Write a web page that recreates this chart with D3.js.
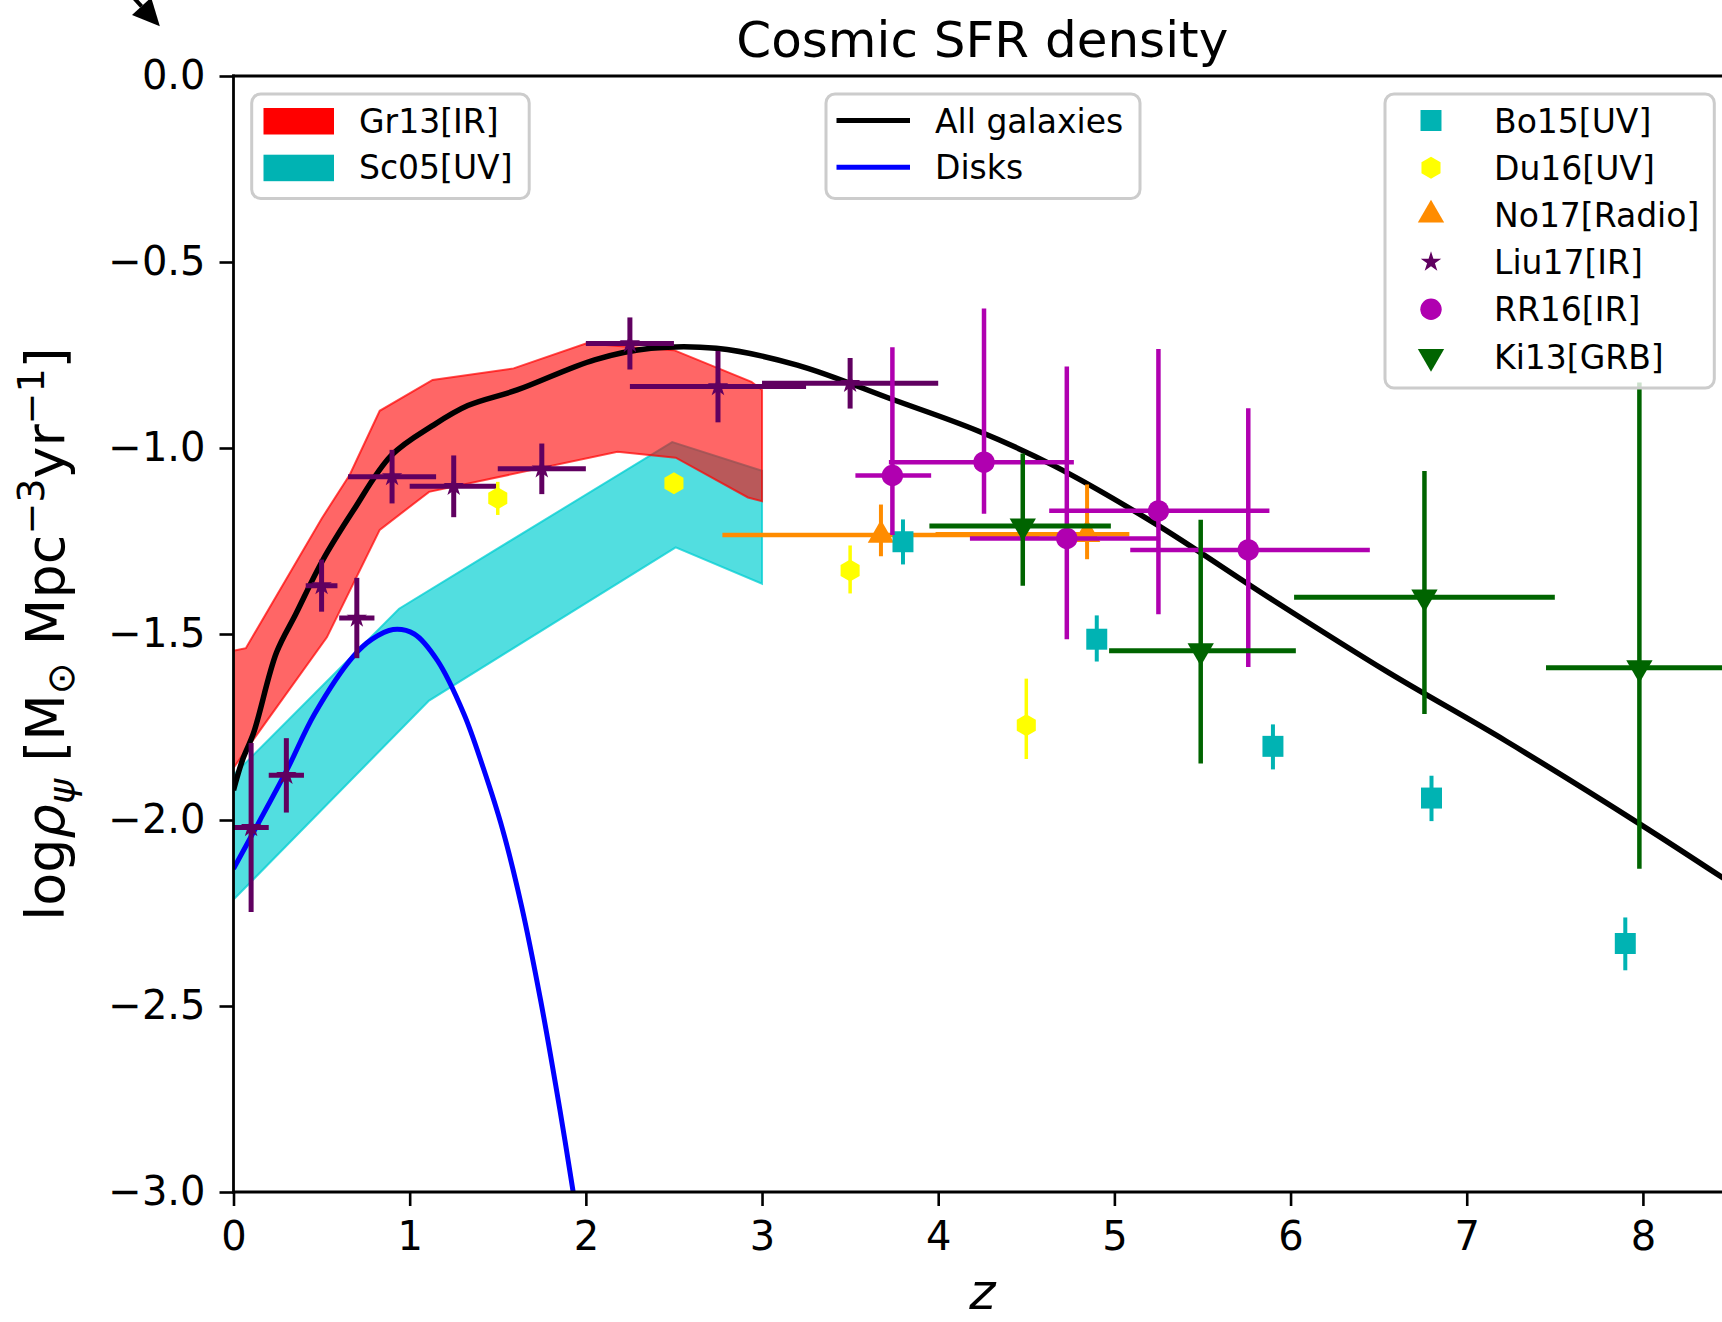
<!DOCTYPE html>
<html>
<head>
<meta charset="utf-8">
<script src="https://cdn.jsdelivr.net/npm/d3@7"></script>
<style>
  html, body { margin: 0; padding: 0; background: #fff; overflow: hidden; }
  svg { display: block; font-family: "DejaVu Sans", sans-serif; }
</style>
</head>
<body>
<svg id="chart" width="1722" height="1322"></svg>
<script>
// ---- Observational bands (upper / lower envelopes) ----
const gr13UpperZ = [0, 0.07, 0.5, 0.66, 0.83, 1.13, 1.59, 2.0, 2.5, 2.94, 3.0];
const gr13UpperV = [-1.545, -1.538, -1.19, -1.072, -0.9, -0.817, -0.786, -0.719, -0.737, -0.822, -0.844];
const gr13LowerZ = [0, 0.11, 0.53, 0.83, 1.11, 2.18, 2.51, 2.92, 3.0];
const gr13LowerV = [-1.86, -1.786, -1.509, -1.22, -1.118, -1.01, -1.026, -1.133, -1.143];

const sc05UpperZ = [0, 0.94, 2.49, 3.0];
const sc05UpperV = [-1.879, -1.432, -0.984, -1.061];
const sc05LowerZ = [0, 1.11, 2.51, 3.0];
const sc05LowerV = [-2.214, -1.679, -1.267, -1.365];

// ---- Model curves ----
const allZ = [0, 0.05, 0.114, 0.244, 0.353, 0.505, 0.679, 0.896, 1.13, 1.33, 1.61, 2.05, 2.37, 2.74, 3.2, 3.75, 4.22, 4.65, 5.22, 5.89, 6.55, 7.22, 7.99, 8.5];
const allV = [-1.92, -1.84, -1.766, -1.55, -1.447, -1.303, -1.169, -1.02, -0.94, -0.886, -0.844, -0.763, -0.732, -0.732, -0.777, -0.871, -0.953, -1.046, -1.2, -1.406, -1.602, -1.787, -2.013, -2.17];

const diskZ = [0, 0.136, 0.31, 0.46, 0.68, 0.787, 0.906, 1.026, 1.157, 1.308, 1.417, 1.526, 1.634, 1.743, 1.853, 1.928];
const diskV = [-2.131, -2.013, -1.859, -1.715, -1.56, -1.514, -1.488, -1.5, -1.571, -1.715, -1.859, -2.023, -2.229, -2.484, -2.78, -3.0];

// ---- Data points with error bars ----
const liu17Z    = [0.1, 0.3, 0.5, 0.7, 0.9, 1.25, 1.75, 2.25, 2.75, 3.5];
const liu17V    = [-2.02, -1.88, -1.37, -1.457, -1.077, -1.103, -1.056, -0.719, -0.835, -0.826];
const liu17ZErr = [0.1, 0.1, 0.09, 0.1, 0.25, 0.25, 0.25, 0.25, 0.5, 0.5];
const liu17VErr = [0.227, 0.1, 0.07, 0.108, 0.072, 0.083, 0.068, 0.07, 0.096, 0.068];

const du16Z     = [1.5, 2.5, 3.5, 4.5];
const du16V     = [-1.135, -1.095, -1.329, -1.745];
const du16VErrLo = [0.045, 0.02, 0.062, 0.091];
const du16VErrHi = [0.044, 0.02, 0.067, 0.125];

const no17Z      = [3.675, 4.845];
const no17V      = [-1.234, -1.232];
const no17ZErrLo = [0.9, 0.86];
const no17ZErrHi = [0.9, 0.24];
const no17VErrLo = [0.057, 0.067];
const no17VErrHi = [0.082, 0.134];

const bo15Z      = [3.8, 4.9, 5.9, 6.8, 7.9];
const bo15V      = [-1.252, -1.514, -1.802, -1.941, -2.332];
const bo15VErrLo = [0.061, 0.06, 0.062, 0.062, 0.072];
const bo15VErrHi = [0.06, 0.064, 0.059, 0.06, 0.07];

const rr16Z      = [3.74, 4.26, 4.73, 5.25, 5.76];
const rr16V      = [-1.074, -1.038, -1.243, -1.169, -1.274];
const rr16ZErrLo = [0.21, 0.54, 0.55, 0.62, 0.67];
const rr16ZErrHi = [0.22, 0.51, 0.53, 0.63, 0.69];
const rr16VErrLo = [0.16, 0.139, 0.271, 0.278, 0.315];
const rr16VErrHi = [0.345, 0.413, 0.462, 0.435, 0.381];

const ki13Z      = [4.48, 5.49, 6.76, 7.98];
const ki13V      = [-1.21, -1.545, -1.401, -1.591];
const ki13ZErrLo = [0.53, 0.52, 0.74, 0.53];
const ki13ZErrHi = [0.5, 0.54, 0.74, 1.0];
const ki13VErrLo = [0.16, 0.303, 0.314, 0.54];
const ki13VErrHi = [0.195, 0.352, 0.339, 0.767];

// ---- Axis ticks and labels ----
const xTicks = [0, 1, 2, 3, 4, 5, 6, 7, 8];
const yTicks = [0, -0.5, -1.0, -1.5, -2.0, -2.5, -3.0];
const titleText = "Cosmic SFR density";
const bandLabels = ["Gr13[IR]", "Sc05[UV]"];
const curveLabels = ["All galaxies", "Disks"];
const pointLabels = ["Bo15[UV]", "Du16[UV]", "No17[Radio]", "Liu17[IR]", "RR16[IR]", "Ki13[GRB]"];

// ---- Layout ----
const axLeft = 233.5, axRight = 1731, axTop = 76, axBottom = 1192;

const svg = d3.select("#chart");
const x = d3.scaleLinear().domain([0, 8.5]).range([axLeft, axRight]);
const y = d3.scaleLinear().domain([-3, 0]).range([axBottom, axTop]);

const colors = {
  gr13: "#ff0000", sc05: "#00ced1", sc05Patch: "#00b3b3",
  all: "#000000", disk: "#0000ff",
  liu17: "#600060", du16: "#ffff00", no17: "#ff8c00",
  bo15: "#00b3b3", rr16: "#b000b0", ki13: "#006400"
};

svg.append("defs").append("clipPath").attr("id", "plotclip")
  .append("rect").attr("x", axLeft).attr("y", axTop)
  .attr("width", axRight - axLeft).attr("height", axBottom - axTop);

const plot = svg.append("g").attr("clip-path", "url(#plotclip)");

// bands: polygon made of upper edge then reversed lower edge
function bandPoints(uz, uv, lz, lv) {
  const up = uz.map((z, i) => [x(z), y(uv[i])]);
  const lo = lz.map((z, i) => [x(z), y(lv[i])]).reverse();
  return up.concat(lo);
}
const poly = d3.line().curve(d3.curveLinearClosed);

plot.append("path")
  .attr("d", poly(bandPoints(sc05UpperZ, sc05UpperV, sc05LowerZ, sc05LowerV)))
  .attr("fill", colors.sc05).attr("fill-opacity", 0.68)
  .attr("stroke", colors.sc05).attr("stroke-opacity", 0.75).attr("stroke-width", 2);

plot.append("path")
  .attr("d", poly(bandPoints(gr13UpperZ, gr13UpperV, gr13LowerZ, gr13LowerV)))
  .attr("fill", colors.gr13).attr("fill-opacity", 0.6)
  .attr("stroke", colors.gr13).attr("stroke-opacity", 0.7).attr("stroke-width", 2);

// model curves
const smooth = d3.line().x(d => x(d[0])).y(d => y(d[1])).curve(d3.curveCatmullRom.alpha(0.5));
plot.append("path").attr("d", smooth(diskZ.map((z, i) => [z, diskV[i]])))
  .attr("fill", "none").attr("stroke", colors.disk).attr("stroke-width", 5);
plot.append("path").attr("d", smooth(allZ.map((z, i) => [z, allV[i]])))
  .attr("fill", "none").attr("stroke", colors.all).attr("stroke-width", 5.5);

// error bars
function errorbars(g, zs, vs, zlo, zhi, vlo, vhi, color, wx, wy) {
  zs.forEach((z, i) => {
    if (zlo && (zlo[i] > 0 || zhi[i] > 0)) {
      g.append("line")
        .attr("x1", x(z - zlo[i])).attr("x2", x(z + zhi[i]))
        .attr("y1", y(vs[i])).attr("y2", y(vs[i]))
        .attr("stroke", color).attr("stroke-width", wx);
    }
    if (vlo && (vlo[i] > 0 || vhi[i] > 0)) {
      g.append("line")
        .attr("x1", x(z)).attr("x2", x(z))
        .attr("y1", y(vs[i] - vlo[i])).attr("y2", y(vs[i] + vhi[i]))
        .attr("stroke", color).attr("stroke-width", wy);
    }
  });
}

// marker shapes
function hexagonPath(r) {
  const corners = d3.range(6).map(k => {
    const a = -Math.PI / 2 + k * Math.PI / 3;
    return [r * Math.cos(a), r * Math.sin(a)];
  });
  return "M" + corners.map(p => p.join(",")).join("L") + "Z";
}
const markerPath = {
  square: d3.symbol(d3.symbolSquare, 440)(),
  hexagon: hexagonPath(11),
  triUp: d3.symbol(d3.symbolTriangle, 300)(),
  triDown: d3.symbol(d3.symbolTriangle, 300)(),
  star: d3.symbol(d3.symbolStar, 130)(),
  circle: d3.symbol(d3.symbolCircle, 360)()
};
function markers(g, zs, vs, shape, color) {
  zs.forEach((z, i) => {
    g.append("path").attr("d", markerPath[shape])
      .attr("transform", `translate(${x(z)},${y(vs[i])})` + (shape === "triDown" ? " rotate(180)" : ""))
      .attr("fill", color);
  });
}

const dots = plot.append("g");
errorbars(dots, liu17Z, liu17V, liu17ZErr, liu17ZErr, liu17VErr, liu17VErr, colors.liu17, 5, 5);
markers(dots, liu17Z, liu17V, "star", colors.liu17);
errorbars(dots, du16Z, du16V, null, null, du16VErrLo, du16VErrHi, colors.du16, 3.5, 3.5);
markers(dots, du16Z, du16V, "hexagon", colors.du16);
errorbars(dots, no17Z, no17V, no17ZErrLo, no17ZErrHi, no17VErrLo, no17VErrHi, colors.no17, 4.5, 4);
markers(dots, no17Z, no17V, "triUp", colors.no17);
errorbars(dots, bo15Z, bo15V, null, null, bo15VErrLo, bo15VErrHi, colors.bo15, 4, 4);
markers(dots, bo15Z, bo15V, "square", colors.bo15);
errorbars(dots, rr16Z, rr16V, rr16ZErrLo, rr16ZErrHi, rr16VErrLo, rr16VErrHi, colors.rr16, 4.5, 4.5);
markers(dots, rr16Z, rr16V, "circle", colors.rr16);
errorbars(dots, ki13Z, ki13V, ki13ZErrLo, ki13ZErrHi, ki13VErrLo, ki13VErrHi, colors.ki13, 5, 4.5);
markers(dots, ki13Z, ki13V, "triDown", colors.ki13);

// ---- Axes ----
const tickFont = 40;
const yAxis = svg.append("g").attr("transform", `translate(${axLeft},0)`)
  .call(d3.axisLeft(y).tickValues(yTicks).tickFormat(d3.format(".1f")).tickSize(14).tickPadding(14));
const xAxis = svg.append("g").attr("transform", `translate(0,${axBottom})`)
  .call(d3.axisBottom(x).tickValues(xTicks).tickFormat(d3.format("d")).tickSize(14).tickPadding(16));
[xAxis, yAxis].forEach(a => {
  a.select(".domain").remove();
  a.selectAll(".tick line").attr("stroke", "#000").attr("stroke-width", 2.6);
  a.selectAll(".tick text").attr("fill", "#000")
    .style("font-family", "DejaVu Sans").style("font-size", tickFont + "px");
});

// spines
const spine = svg.append("g").attr("stroke", "#000").attr("stroke-width", 2.8).attr("stroke-linecap", "square");
spine.append("line").attr("x1", axLeft).attr("x2", axLeft).attr("y1", axTop).attr("y2", axBottom);
spine.append("line").attr("x1", axLeft).attr("x2", axRight).attr("y1", axTop).attr("y2", axTop);
spine.append("line").attr("x1", axLeft).attr("x2", axRight).attr("y1", axBottom).attr("y2", axBottom);
spine.append("line").attr("x1", axRight).attr("x2", axRight).attr("y1", axTop).attr("y2", axBottom);

// title and axis labels
svg.append("text").attr("x", (axLeft + axRight) / 2).attr("y", 57)
  .attr("text-anchor", "middle").style("font-size", "50px").text(titleText);

svg.append("text").attr("x", (axLeft + axRight) / 2).attr("y", 1309)
  .attr("text-anchor", "middle").style("font-size", "50px").style("font-style", "italic").text("z");

const yl = svg.append("text")
  .attr("transform", `translate(64,${(axTop + axBottom) / 2}) rotate(-90)`)
  .attr("text-anchor", "middle").style("font-size", "54px");
yl.append("tspan").text("log");
yl.append("tspan").style("font-style", "italic").text("ρ");
yl.append("tspan").style("font-style", "italic").style("font-size", "38px").attr("dy", 10).text("ψ");
yl.append("tspan").attr("dy", -10).text(" [M");
yl.append("tspan").style("font-size", "38px").attr("dy", 10).text("⊙");
yl.append("tspan").attr("dy", -10).text(" Mpc");
yl.append("tspan").style("font-size", "38px").attr("dy", -20).text("−3");
yl.append("tspan").attr("dy", 20).text("yr");
yl.append("tspan").style("font-size", "38px").attr("dy", -20).text("−1");
yl.append("tspan").attr("dy", 20).text("]");

// annotation arrow entering from the upper left corner
const arrowTip = [x(-0.418), y(0.134)];
const arrowTail = [x(-0.76), y(0.31)];
const ang = Math.atan2(arrowTip[1] - arrowTail[1], arrowTip[0] - arrowTail[0]);
const headL = 27, headW = 13;
const headBase = [arrowTip[0] - headL * Math.cos(ang), arrowTip[1] - headL * Math.sin(ang)];
svg.append("line").attr("x1", arrowTail[0]).attr("y1", arrowTail[1])
  .attr("x2", headBase[0]).attr("y2", headBase[1]).attr("stroke", "#000").attr("stroke-width", 4);
svg.append("path").attr("fill", "#000").attr("d", d3.line()([
  arrowTip,
  [headBase[0] + headW * Math.sin(ang), headBase[1] - headW * Math.cos(ang)],
  [headBase[0] - headW * Math.sin(ang), headBase[1] + headW * Math.cos(ang)]
]) + "Z");

// ---- Legends ----
const legFont = 33;
function legendFrame(x0, y0, w, h) {
  svg.append("rect").attr("x", x0).attr("y", y0).attr("width", w).attr("height", h)
    .attr("rx", 9).attr("fill", "#fff").attr("fill-opacity", 0.8)
    .attr("stroke", "#cccccc").attr("stroke-width", 3);
}
function legText(tx, ty, t) {
  svg.append("text").attr("x", tx).attr("y", ty).style("font-size", legFont + "px").text(t);
}

// bands legend
legendFrame(251.7, 94, 277.5, 104.5);
const bandColors = [colors.gr13, colors.sc05Patch];
bandLabels.forEach((t, i) => {
  svg.append("rect").attr("x", 263.5).attr("y", 108 + i * 46.7).attr("width", 70.5).attr("height", 26.5)
    .attr("fill", bandColors[i]);
  legText(359, 132.5 + i * 46.7, t);
});

// curves legend
legendFrame(826, 94, 314, 104.5);
const curveColors = [colors.all, colors.disk];
curveLabels.forEach((t, i) => {
  svg.append("line").attr("x1", 836.5).attr("x2", 910).attr("y1", 120.5 + i * 46.7).attr("y2", 120.5 + i * 46.7)
    .attr("stroke", curveColors[i]).attr("stroke-width", 5);
  legText(935, 132.5 + i * 46.7, t);
});

// points legend
legendFrame(1385, 94, 329.3, 294);
const pointShapes = ["square", "hexagon", "triUp", "star", "circle", "triDown"];
const pointColors = [colors.bo15, colors.du16, colors.no17, colors.liu17, colors.rr16, colors.ki13];
pointLabels.forEach((t, i) => {
  const cy = 120.5 + i * 47.2;
  svg.append("path").attr("d", markerPath[pointShapes[i]])
    .attr("transform", `translate(1431,${cy})` + (pointShapes[i] === "triDown" ? " rotate(180)" : ""))
    .attr("fill", pointColors[i]);
  legText(1494, cy + 12, t);
});
</script>
</body>
</html>
